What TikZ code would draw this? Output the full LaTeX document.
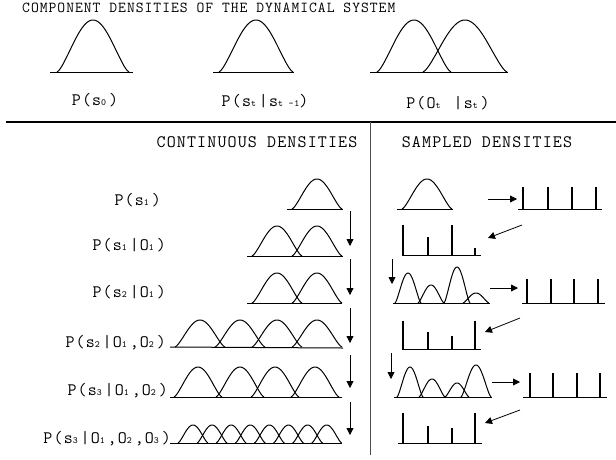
\documentclass[tikz,border=0pt]{standalone}
\usepackage{fontspec}
\newfontfamily\cour{Latin Modern Mono}[LetterSpace=6.5]
\usetikzlibrary{arrows.meta}
% subscript that keeps most of one monospace slot
\newcommand{\ssub}[1]{\makebox[0.45em][l]{\fontsize{9.5}{9.5}\selectfont #1}}
% one density bump: centre x, base y, half width, height
\newcommand{\bump}[4]{\draw[bellline] plot[domain=-1:1, samples=41, smooth] ({#1+#3*\x},{#2-#4*(abs(1+cos(180*\x))/2+0.00001)^0.7});}

\begin{document}
\begin{tikzpicture}[x=1pt, y=-1pt,
  bellline/.style={line width=1pt, line join=round},
  baseln/.style={line width=1pt},
  spike/.style={line width=1.2pt},
  arr/.style={-{Triangle[length=7pt, width=7pt]}, line width=0.8pt},
  lab/.style={font=\cour\fontsize{17.5}{18}\selectfont, inner sep=0pt},
  ttl/.style={font=\cour\fontsize{15.2}{16}\selectfont, inner sep=0pt}
]
\useasboundingbox (0,0) rectangle (616,459);

% component densities
\node[ttl, anchor=base west] (title) at (22,12) {COMPONENT DENSITIES OF THE DYNAMICAL SYSTEM};
\draw[baseln] (50,72) -- (133,72);
\bump{93}{72}{36}{52}
\draw[baseln] (213,72) -- (294,72);
\bump{256}{72}{37}{52}
\draw[baseln] (370,72) -- (508,72);
\bump{414}{72}{37}{52}
\bump{465}{72}{42}{52}
\node[lab, anchor=base] (prior) at (95,105) {P(s\ssub{0})};
\node[lab, anchor=base] (trans) at (265,106) {P(s\ssub{t}|s{\fontsize{9.5}{9.5}\selectfont t -1})};
\node[lab, anchor=base] (obs) at (448,108) {P(O\ssub{t} |s\ssub{t})};

% frame
\draw[line width=2pt] (6,122) -- (616,122);
\draw[line width=1pt, black!70] (370,122) -- (370,455);
\node[lab, anchor=base] (cont) at (257,147) {CONTINUOUS DENSITIES};
\node[lab, anchor=base] (samp) at (487,147) {SAMPLED DENSITIES};

% continuous column
\node[lab, anchor=base east] (r1) at (161,205) {P(s\ssub{1})};
\node[lab, anchor=base east] (r2) at (166,250) {P(s\ssub{1}|O\ssub{1})};
\node[lab, anchor=base east] (r3) at (166,297) {P(s\ssub{2}|O\ssub{1})};
\node[lab, anchor=base east] (r4) at (166,347) {P(s\ssub{2}|O\ssub{1},O\ssub{2})};
\node[lab, anchor=base east] (r5) at (168,395) {P(s\ssub{3}|O\ssub{1},O\ssub{2})};
\node[lab, anchor=base east] (r6) at (171,443) {P(s\ssub{3}|O\ssub{1},O\ssub{2},O\ssub{3})};

\draw[baseln] (287,209) -- (343,209);
\bump{317}{209}{25}{30}
\draw[baseln] (247,256) -- (343,256);
\bump{277}{256}{25}{30}
\bump{317}{256}{25}{30}
\draw[baseln] (247,303) -- (342,303);
\bump{277}{303}{25}{30}
\bump{317}{303}{25}{30}
\draw[baseln] (170,347) -- (343,348);
\foreach \cx in {200,240,277,317} {\bump{\cx}{347}{25}{27}}
\draw[baseln] (170,397) -- (342,397);
\foreach \cx in {198,240,275,315} {\bump{\cx}{397}{24}{30}}
\draw[baseln] (170,443) -- (342,443);
\foreach \i in {0,...,7} {\bump{193+19.1*\i}{443}{15}{18}}

\coordinate (a1) at (350,211);
\coordinate (b1) at (350,246);
\coordinate (a2) at (350,259);
\coordinate (b2) at (350,295);
\coordinate (a3) at (350,308);
\coordinate (b3) at (350,343);
\coordinate (a4) at (350,355);
\coordinate (b4) at (350,388);
\coordinate (a5) at (350,402);
\coordinate (b5) at (350,435);
\draw[arr] (a1) -- (b1);
\draw[arr] (a2) -- (b2);
\draw[arr] (a3) -- (b3);
\draw[arr] (a4) -- (b4);
\draw[arr] (a5) -- (b5);

% sampled column
\draw[baseln] (397,209) -- (453,209);
\bump{427}{209}{25}{30}
\draw[baseln] (518,209) -- (602,209);
\foreach \xx in {523,548,572,596} \draw[spike] (\xx,209) -- (\xx,187);
\draw[baseln] (402,255) -- (481,255);
\foreach \xx/\tp in {403/225,428/237,452/225,475/248} \draw[spike] (\xx,255) -- (\xx,\tp);
\draw[baseln] (393,303) -- (490,303);
\bump{408}{303}{13}{30}
\bump{431}{303}{13}{18}
\bump{457}{303}{13}{36}
\bump{476}{303}{13}{10}
\draw[baseln] (522,303) -- (605,303);
\foreach \xx in {527,551,574,598} \draw[spike] (\xx,303) -- (\xx,279);
\draw[baseln] (402,349) -- (481,349);
\foreach \xx/\tp in {403/321,428/332,452/336,475/321} \draw[spike] (\xx,349) -- (\xx,\tp);
\draw[baseln] (394,397) -- (492,397);
\bump{410}{397}{13}{30}
\bump{432}{397}{13}{18}
\bump{457}{397}{12}{14}
\bump{476}{397}{15}{32}
\draw[baseln] (523,397) -- (607,397);
\foreach \xx in {530,553,577,600} \draw[spike] (\xx,397) -- (\xx,373);
\draw[baseln] (398,443) -- (482,443);
\foreach \xx/\tp in {403/413,428/426,452/428,475/413} \draw[spike] (\xx,443) -- (\xx,\tp);

\coordinate (s1) at (488,199);
\coordinate (t1) at (517,199);
\coordinate (s2) at (522,225);
\coordinate (t2) at (488,238);
\coordinate (s3) at (392,259);
\coordinate (t3) at (392,284);
\coordinate (s4) at (490,288);
\coordinate (t4) at (518,288);
\coordinate (s5) at (520,318);
\coordinate (t5) at (485,332);
\coordinate (s6) at (391,353);
\coordinate (t6) at (391,379);
\coordinate (s7) at (492,382);
\coordinate (t7) at (520,382);
\coordinate (s8) at (520,410);
\coordinate (t8) at (485,423);
\draw[arr] (s1) -- (t1);
\draw[arr] (s2) -- (t2);
\draw[arr] (s3) -- (t3);
\draw[arr] (s4) -- (t4);
\draw[arr] (s5) -- (t5);
\draw[arr] (s6) -- (t6);
\draw[arr] (s7) -- (t7);
\draw[arr] (s8) -- (t8);
\end{tikzpicture}
\end{document}
